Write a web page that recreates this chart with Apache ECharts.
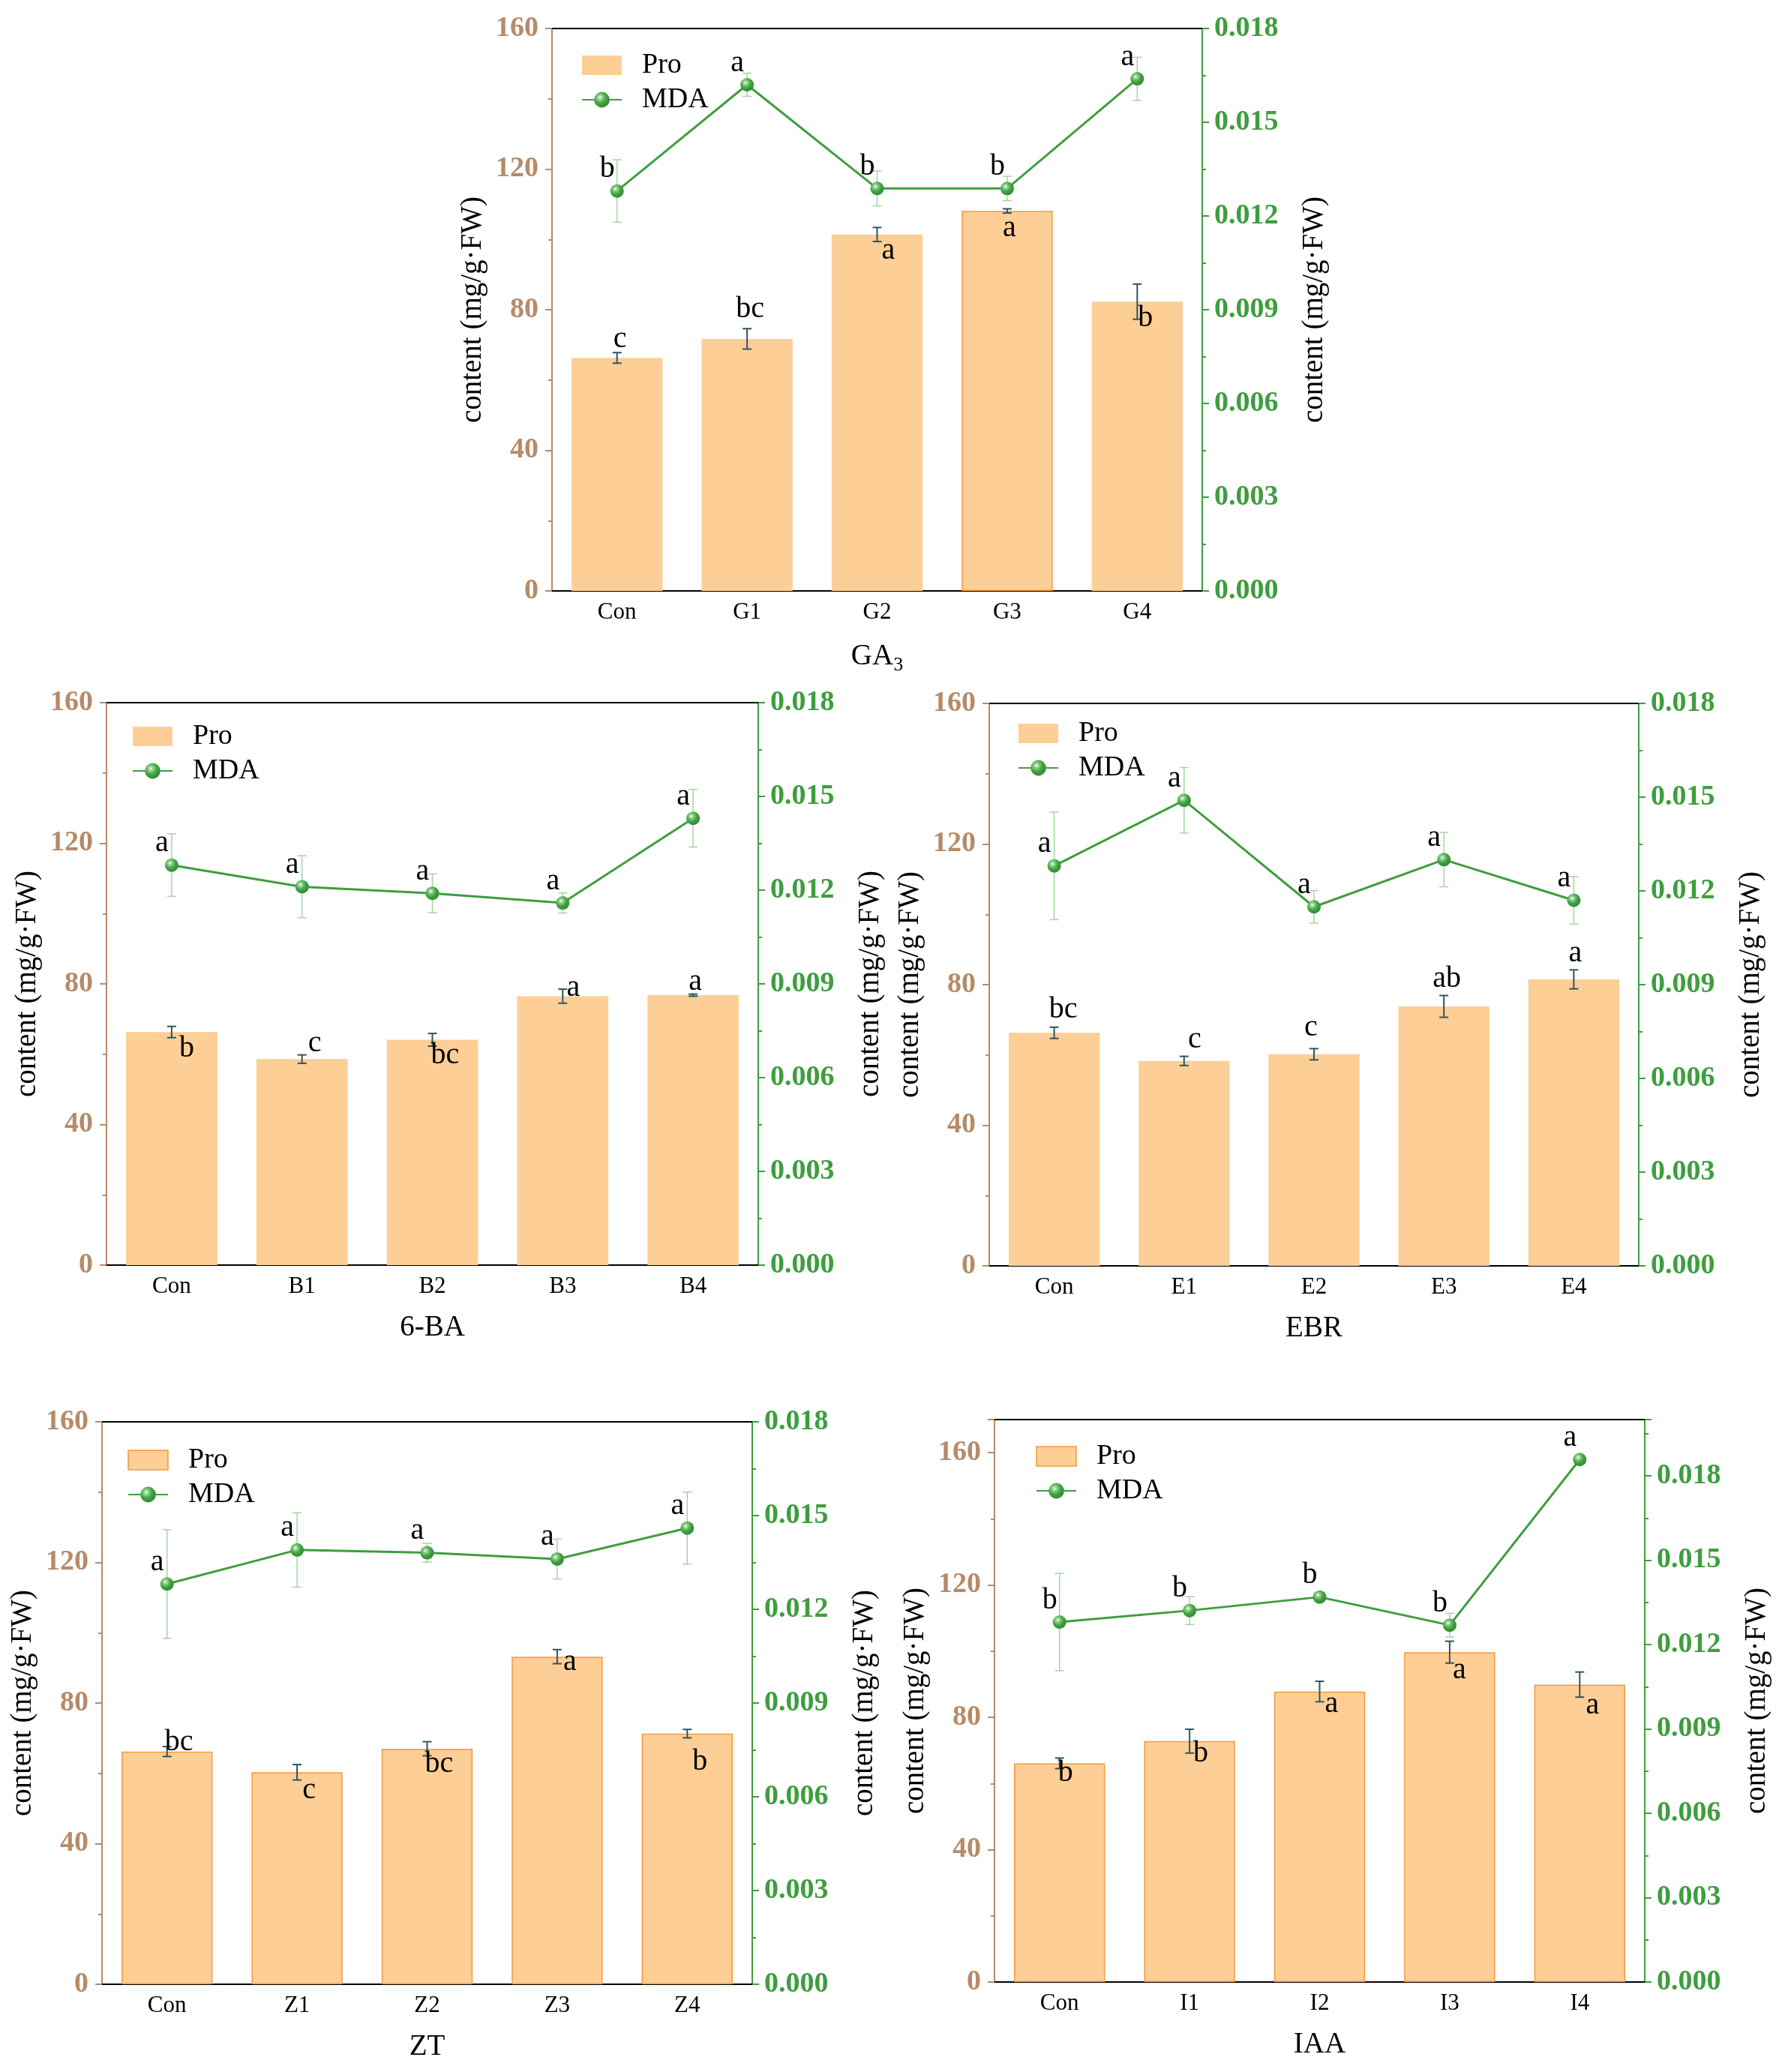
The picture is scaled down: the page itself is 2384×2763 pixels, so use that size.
<!DOCTYPE html>
<html>
<head>
    <meta charset="utf-8">
    <title>Pro / MDA</title>
    <script src="https://cdn.jsdelivr.net/npm/echarts@6/dist/echarts.min.js"></script>
    <style>
        html, body { margin: 0; padding: 0; background: #fff; }
        #main { width: 2384px; height: 2763px; }
    </style>
</head>
<body>
<div id="main"></div>

<script type="text/javascript">
    // ---- data ----
    var catsGA = ['Con', 'G1', 'G2', 'G3', 'G4'];
    var proGA = [66.3, 71.7, 101.4, 108.1, 82.3];
    var proErrGA = [1.5, 2.9, 2.0, 0.6, 5.0];
    var mdaGA = [0.0128, 0.0162, 0.01288, 0.01288, 0.01639];
    var mdaErrGA = [0.0010, 0.00037, 0.00056, 0.00039, 0.00069];
    var proTagGA = ['c', 'bc', 'a', 'a', 'b'];
    var mdaTagGA = ['b', 'a', 'b', 'b', 'a'];

    var catsBA = ['Con', 'B1', 'B2', 'B3', 'B4'];
    var proBA = [66.3, 58.6, 64.1, 76.5, 76.8];
    var proErrBA = [1.6, 1.2, 1.8, 2.0, 0.3];
    var mdaBA = [0.0128, 0.01211, 0.0119, 0.01159, 0.0143];
    var mdaErrBA = [0.0010, 0.00099, 0.00062, 0.00032, 0.00092];
    var proTagBA = ['b', 'c', 'bc', 'a', 'a'];
    var mdaTagBA = ['a', 'a', 'a', 'a', 'a'];

    var catsEBR = ['Con', 'E1', 'E2', 'E3', 'E4'];
    var proEBR = [66.3, 58.3, 60.2, 73.8, 81.5];
    var proErrEBR = [1.6, 1.3, 1.6, 3.1, 2.7];
    var mdaEBR = [0.0128, 0.0149, 0.01149, 0.0130, 0.0117];
    var mdaErrEBR = [0.00172, 0.00105, 0.00052, 0.00087, 0.00076];
    var proTagEBR = ['bc', 'c', 'c', 'ab', 'a'];
    var mdaTagEBR = ['a', 'a', 'a', 'a', 'a'];

    var catsZT = ['Con', 'Z1', 'Z2', 'Z3', 'Z4'];
    var proZT = [66.2, 60.3, 67.0, 93.2, 71.3];
    var proErrZT = [1.4, 2.2, 2.0, 2.0, 1.2];
    var mdaZT = [0.01281, 0.0139, 0.01381, 0.01361, 0.0146];
    var mdaErrZT = [0.00174, 0.00119, 0.0003, 0.00064, 0.00115];
    var proTagZT = ['bc', 'c', 'bc', 'a', 'b'];
    var mdaTagZT = ['a', 'a', 'a', 'a', 'a'];

    var catsIAA = ['Con', 'I1', 'I2', 'I3', 'I4'];
    var proIAA = [66.1, 72.8, 87.8, 99.7, 89.9];
    var proErrIAA = [1.6, 3.6, 3.1, 3.3, 3.8];
    var mdaIAA = [0.0128, 0.01321, 0.01369, 0.01269, 0.01858];
    var mdaErrIAA = [0.00173, 0.0005, 0.0001, 0.00042, 0.0001];
    var proTagIAA = ['b', 'b', 'a', 'a', 'a'];
    var mdaTagIAA = ['b', 'b', 'b', 'b', 'a'];

    var yName = 'content (mg/g·FW)';

    // ---- layout / style per panel ----
    var FONT = 'Liberation Serif';
    var TAN = '#B68B69';
    var GREEN = '#3E9E3E';
    var BAR = '#FDCE96';
    var EDGE = '#F39A3F';

    var panels = [
        {name: 'GA{s|3}', cats: catsGA, pro: proGA, proErr: proErrGA, mda: mdaGA, mdaErr: mdaErrGA,
            proTag: proTagGA, mdaTag: mdaTagGA, rect: [736, 38, 867, 750], legend: [775, 68],
            leftMax: 160, rightMax: 0.018, edge: [0, 0, 0, 1, 0],
            tagOff: [[4, -25], [4, -39], [15, 22], [3, 23], [11, 22]]},
        {name: '6-BA', cats: catsBA, pro: proBA, proErr: proErrBA, mda: mdaBA, mdaErr: mdaErrBA,
            proTag: proTagBA, mdaTag: mdaTagBA, rect: [142, 937, 869, 750], legend: [176, 963],
            leftMax: 160, rightMax: 0.018, edge: [0, 0, 0, 0, 0],
            tagOff: [[20, 22], [17, -21], [17, 21], [14, -11], [3, -18]]},
        {name: 'EBR', cats: catsEBR, pro: proEBR, proErr: proErrEBR, mda: mdaEBR, mdaErr: mdaErrEBR,
            proTag: proTagEBR, mdaTag: mdaTagEBR, rect: [1319, 938, 866, 750], legend: [1357, 959],
            leftMax: 160, rightMax: 0.018, edge: [0, 0, 0, 0, 0],
            tagOff: [[12, -31], [14, -28], [-4, -35], [4, -37], [2, -34]]},
        {name: 'ZT', cats: catsZT, pro: proZT, proErr: proErrZT, mda: mdaZT, mdaErr: mdaErrZT,
            proTag: proTagZT, mdaTag: mdaTagZT, rect: [136, 1896, 867, 750], legend: [170, 1928],
            leftMax: 160, rightMax: 0.018, edge: [1, 1, 1, 1, 1],
            tagOff: [[16, -12], [16, 24], [16, 21], [17, 7], [17, 38]]},
        {name: 'IAA', cats: catsIAA, pro: proIAA, proErr: proErrIAA, mda: mdaIAA, mdaErr: mdaErrIAA,
            proTag: proTagIAA, mdaTag: mdaTagIAA, rect: [1326, 1893, 867, 750], legend: [1381, 1923],
            leftMax: 170, rightMax: 0.02, edge: [1, 1, 1, 1, 1],
            tagOff: [[8, 13], [15, 17], [16, 17], [13, 24], [17, 28]]}
    ];

    var ball = new echarts.graphic.RadialGradient(0.38, 0.35, 0.7, [
        {offset: 0, color: '#f4fff4'},
        {offset: 0.22, color: '#8fd08f'},
        {offset: 0.55, color: '#43a343'},
        {offset: 1, color: '#2d872d'}
    ]);

    function errorSeries(gi, yi, vals, errs, tags, offs, color, lw, z) {
        return {
            type: 'custom',
            xAxisIndex: gi * 4,
            yAxisIndex: gi * 2 + yi,
            z: z,
            silent: true,
            data: vals.map(function (v, i) { return [i, v, errs[i]]; }),
            renderItem: function (params, api) {
                var i = api.value(0), v = api.value(1), e = api.value(2);
                var c = api.coord([i, v]);
                var t = api.coord([i, v + e]);
                var b = api.coord([i, v - e]);
                var hw = 6;
                var off = offs[params.dataIndex];
                function seg(x1, y1, x2, y2) {
                    return {type: 'line', shape: {x1: x1, y1: y1, x2: x2, y2: y2},
                        style: {stroke: color, lineWidth: lw}};
                }
                return {
                    type: 'group',
                    children: [
                        seg(c[0], t[1], c[0], b[1]),
                        seg(c[0] - hw, t[1], c[0] + hw, t[1]),
                        seg(c[0] - hw, b[1], c[0] + hw, b[1]),
                        {
                            type: 'text',
                            style: {
                                text: tags[params.dataIndex],
                                x: c[0] + off[0], y: c[1] + off[1],
                                font: '40px "Liberation Serif"', fill: '#000',
                                align: 'center', verticalAlign: 'middle'
                            }
                        }
                    ]
                };
            }
        };
    }

    var grids = [], xAxes = [], yAxes = [], series = [], legends = [];

    panels.forEach(function (p, gi) {
        grids.push({left: p.rect[0], top: p.rect[1], width: p.rect[2], height: p.rect[3], containLabel: false});

        // bottom axis with labels and centre ticks
        xAxes.push({
            type: 'category', gridIndex: gi, data: p.cats, position: 'bottom',
            axisLine: {lineStyle: {color: '#000', width: 2}},
            axisTick: {alignWithLabel: true, length: 8, lineStyle: {color: '#000', width: 2}},
            axisLabel: {color: '#000', fontSize: 31, fontFamily: FONT, margin: 13},
            name: p.name, nameLocation: 'middle', nameGap: 64,
            nameTextStyle: {color: '#000', fontSize: 39, fontFamily: FONT,
                rich: {s: {fontSize: 26, fontFamily: FONT, color: '#000', padding: [22, 0, 0, 0]}}}
        });
        // bottom boundary ticks
        xAxes.push({
            type: 'category', gridIndex: gi, data: p.cats, position: 'bottom',
            axisLine: {show: false},
            axisTick: {interval: 0, length: 4, lineStyle: {color: '#000', width: 2}},
            axisLabel: {show: false}
        });
        // top frame, centre ticks inside
        xAxes.push({
            type: 'category', gridIndex: gi, data: p.cats, position: 'top',
            axisLine: {lineStyle: {color: '#000', width: 2}},
            axisTick: {inside: true, alignWithLabel: true, length: 9, lineStyle: {color: '#000', width: 2}},
            axisLabel: {show: false}
        });
        // top boundary ticks
        xAxes.push({
            type: 'category', gridIndex: gi, data: p.cats, position: 'top',
            axisLine: {show: false},
            axisTick: {inside: true, interval: 0, length: 4, lineStyle: {color: '#000', width: 2}},
            axisLabel: {show: false}
        });

        yAxes.push({
            type: 'value', gridIndex: gi, position: 'left', min: 0, max: p.leftMax, interval: 40,
            axisLine: {show: true, lineStyle: {color: TAN, width: 2}},
            axisTick: {show: true, length: 9, lineStyle: {color: TAN, width: 2}},
            minorTick: {show: true, splitNumber: 2, length: 5, lineStyle: {color: TAN, width: 2}},
            splitLine: {show: false},
            axisLabel: {color: TAN, fontSize: 38, fontWeight: 'bold', fontFamily: FONT, margin: 18,
                showMaxLabel: p.leftMax === 160},
            name: yName, nameLocation: 'middle', nameGap: 86, nameRotate: 90,
            nameTextStyle: {color: '#000', fontSize: 39, fontFamily: FONT}
        });
        yAxes.push({
            type: 'value', gridIndex: gi, position: 'right', min: 0, max: p.rightMax, interval: 0.003,
            axisLine: {show: true, lineStyle: {color: GREEN, width: 2}},
            axisTick: {show: true, length: 9, lineStyle: {color: GREEN, width: 2}},
            minorTick: {show: true, splitNumber: 2, length: 5, lineStyle: {color: GREEN, width: 2}},
            splitLine: {show: false},
            axisLabel: {color: GREEN, fontSize: 38, fontWeight: 'bold', fontFamily: FONT, margin: 16,
                showMaxLabel: p.rightMax === 0.018,
                formatter: function (v) { return v.toFixed(3); }},
            name: yName, nameLocation: 'middle', nameGap: 130, nameRotate: 90,
            nameTextStyle: {color: '#000', fontSize: 39, fontFamily: FONT}
        });

        var bordered = p.edge.indexOf(1) >= 0 && p.edge.indexOf(0) < 0;
        series.push({
            name: 'Pro', type: 'bar', xAxisIndex: gi * 4, yAxisIndex: gi * 2,
            barWidth: '70%', z: 2,
            itemStyle: {color: BAR},
            data: p.pro.map(function (v, i) {
                return p.edge[i] ? {value: v, itemStyle: {borderColor: EDGE, borderWidth: 1.5}} : v;
            })
        });
        series.push(errorSeries(gi, 0, p.pro, p.proErr, p.proTag, p.tagOff, '#2F5561', 2, 4));
        series.push(errorSeries(gi, 1, p.mda, p.mdaErr, p.mdaTag,
            p.mda.map(function () { return [-13, -29]; }), '#A3D69E', 1.5, 3));
        series.push({
            name: 'MDA', type: 'line', xAxisIndex: gi * 4, yAxisIndex: gi * 2 + 1,
            symbol: 'circle', symbolSize: 18, z: 5,
            lineStyle: {color: GREEN, width: 3},
            itemStyle: {color: ball},
            data: p.mda
        });

        legends.push({
            left: p.legend[0], top: p.legend[1], orient: 'vertical',
            itemWidth: 53, itemHeight: 26, itemGap: 8, padding: 0,
            textStyle: {color: '#000', fontSize: 38, fontFamily: FONT, lineHeight: 38, padding: [0, 0, 0, 22]},
            data: [
                {name: 'Pro', icon: 'rect',
                    itemStyle: bordered ? {color: BAR, borderColor: EDGE, borderWidth: 1.5} : {color: BAR, borderWidth: 0}},
                {name: 'MDA'}
            ]
        });
    });

    var chart = echarts.init(document.getElementById('main'));
    chart.setOption({
        animation: false,
        backgroundColor: '#fff',
        textStyle: {fontFamily: FONT},
        grid: grids,
        xAxis: xAxes,
        yAxis: yAxes,
        legend: legends,
        series: series
    });
</script>
</body>
</html>
